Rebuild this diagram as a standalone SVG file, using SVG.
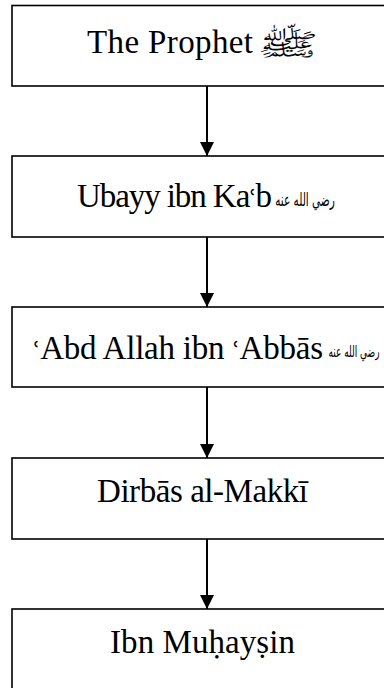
<svg xmlns="http://www.w3.org/2000/svg" width="384" height="688" viewBox="0 0 384 688">
<style>
.box{fill:#fff;stroke:#000;stroke-width:1.6}
.lbl{font-family:"Liberation Serif","DejaVu Serif",serif;font-size:33px;fill:#000}
.ayn{font-family:"DejaVu Serif",serif;font-size:24px}
.hon{font-family:"DejaVu Sans","Noto Sans",sans-serif;fill:#000}
.edge{stroke:#000;stroke-width:2;fill:none}
</style>
<defs>
<marker id="ah" viewBox="0 0 14 14" refX="14" refY="7" markerWidth="14" markerHeight="14" markerUnits="userSpaceOnUse" orient="auto">
<path d="M0,0 L14,7 L0,14 Z" fill="#000"/>
</marker>
</defs>
<rect width="384" height="688" fill="#fff"/>
<g id="connectors">
<line class="edge" x1="207" y1="86" x2="207" y2="156" marker-end="url(#ah)"/>
<line class="edge" x1="207" y1="237" x2="207" y2="307" marker-end="url(#ah)"/>
<line class="edge" x1="207" y1="387" x2="207" y2="458" marker-end="url(#ah)"/>
<line class="edge" x1="207" y1="539" x2="207" y2="609" marker-end="url(#ah)"/>
</g>
<g id="n1">
<rect class="box" x="12" y="5.5" width="390" height="80.5"/>
<text class="lbl" x="87" y="53" textLength="166">The Prophet</text>
<text class="hon" transform="translate(287,55) scale(1.5,0.88)" x="0" y="0" font-size="34" text-anchor="middle">ﷺ</text>
</g>
<g id="n2">
<rect class="box" x="12" y="156" width="390" height="81"/>
<text class="lbl" x="77" y="207" textLength="195">Ubayy ibn Ka<tspan class="ayn">ʿ</tspan>b</text>
<text class="hon" transform="translate(305,206) scale(1,1.7)" x="0" y="0" font-size="10.5" text-anchor="middle">رضي الله عنه</text>
</g>
<g id="n3">
<rect class="box" x="12" y="307" width="390" height="80"/>
<text class="lbl" x="33" y="359" textLength="290"><tspan class="ayn">ʿ</tspan>Abd Allah ibn <tspan class="ayn">ʿ</tspan>Abbās</text>
<text class="hon" transform="translate(354,357) scale(1,1.7)" x="0" y="0" font-size="9" text-anchor="middle">رضي الله عنه</text>
</g>
<g id="n4">
<rect class="box" x="12" y="458" width="390" height="81"/>
<text class="lbl" x="97" y="502" textLength="211">Dirbās al-Makkī</text>
</g>
<g id="n5">
<rect class="box" x="12" y="609" width="390" height="90"/>
<text class="lbl" x="110" y="653" textLength="185">Ibn Muḥayṣin</text>
</g>
</svg>
